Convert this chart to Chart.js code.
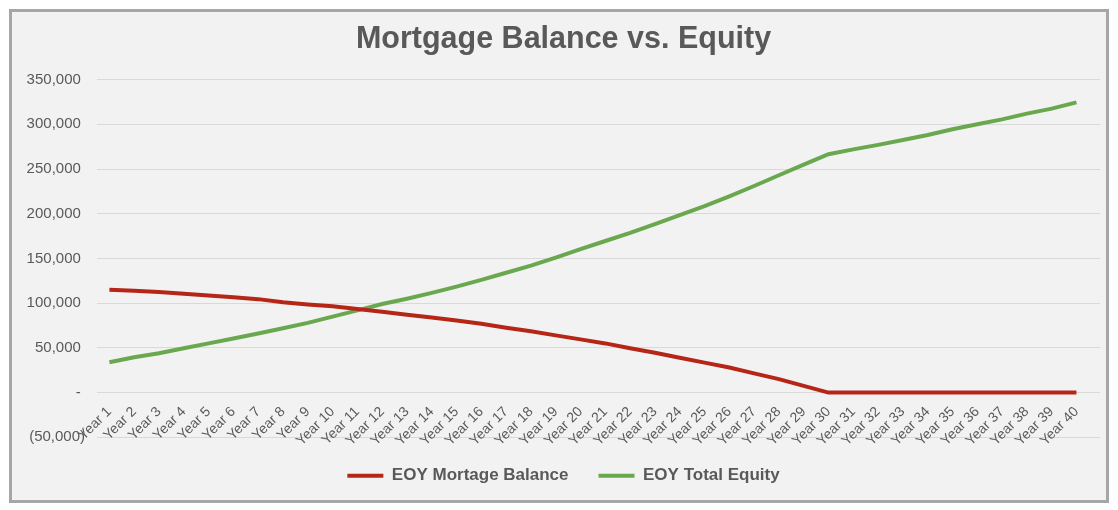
<!DOCTYPE html>
<html>
<head>
<meta charset="utf-8">
<script src="https://cdn.jsdelivr.net/npm/chart.js@4/dist/chart.umd.min.js"></script>
<style>
  html, body { margin: 0; padding: 0; background: #ffffff; }
  #frame {
    position: absolute; left: 9px; top: 9px;
    width: 1094px; height: 488px;
    border: 3px solid #a6a6a6;
    background: #f2f2f2;
  }
  canvas { display: block; }
</style>
</head>
<body>
<div id="frame"><canvas id="myChart" width="1094" height="488"></canvas></div>
<script>
const years = ['Year 1','Year 2','Year 3','Year 4','Year 5','Year 6','Year 7','Year 8','Year 9','Year 10',
  'Year 11','Year 12','Year 13','Year 14','Year 15','Year 16','Year 17','Year 18','Year 19','Year 20',
  'Year 21','Year 22','Year 23','Year 24','Year 25','Year 26','Year 27','Year 28','Year 29','Year 30',
  'Year 31','Year 32','Year 33','Year 34','Year 35','Year 36','Year 37','Year 38','Year 39','Year 40']

const mortgageBalance = [115000, 114000, 112500, 110500, 108500, 106500, 104500, 101000, 98500, 96500,
  93500, 90500, 87000, 84000, 80500, 77000, 72500, 68500, 64000, 59500,
  55000, 49500, 44500, 39000, 33500, 28000, 21500, 15000, 7500, 0,
  0, 0, 0, 0, 0, 0, 0, 0, 0, 0]

const totalEquity = [34000, 39500, 44000, 49500, 55000, 60500, 66000, 72000, 78000, 85000,
  92000, 99000, 105000, 111500, 118500, 126000, 134000, 142000, 151000, 160500,
  169500, 178500, 188500, 198500, 208500, 219500, 231000, 243000, 255000, 266500,
  272000, 277000, 282500, 288000, 294500, 300000, 305500, 312000, 317500, 324500]

const textColor = '#595959'

function fmtTick(v){
    const s = Math.abs(v).toLocaleString('en-US')
    if (v < 0) return '(' + s + ')'
    if (v === 0) return '- '
    return s + ' '
}

const ctx = document.getElementById('myChart').getContext('2d')
const myChart = new Chart(ctx, {
    type: 'line',
    data: {
        labels: years,
        datasets: [
            {
                label: 'EOY Mortage Balance',
                data: mortgageBalance,
                borderColor: '#b52617',
                backgroundColor: '#b52617',
                borderWidth: 4,
                pointRadius: 0,
                tension: 0
            },
            {
                label: 'EOY Total Equity',
                data: totalEquity,
                borderColor: '#6aa84f',
                backgroundColor: '#6aa84f',
                borderWidth: 4,
                pointRadius: 0,
                tension: 0
            }
        ]
    },
    options: {
        responsive: false,
        animation: false,
        devicePixelRatio: 1,
        layout: { padding: { left: 15, right: 6, top: 0, bottom: 5.7 } },
        scales: {
            x: {
                position: { y: 0 },
                offset: true,
                // excel leaves a bit of empty room after the last year
                afterBuildTicks(scale){ scale._valueRange = 40.45 },
                grid: { display: false },
                border: { display: false },
                ticks: {
                    color: textColor,
                    font: { family: 'Liberation Sans', size: 14 },
                    maxRotation: 45,
                    minRotation: 45,
                    autoSkip: false,
                    padding: 3
                }
            },
            y: {
                min: -50000,
                max: 350000,
                afterFit(scale){ scale.width = 70 },
                grid: { color: '#d9d9d9', lineWidth: 1, drawTicks: false },
                border: { display: false },
                ticks: {
                    stepSize: 50000,
                    color: textColor,
                    font: { family: 'Liberation Sans', size: 15 },
                    padding: 12,
                    callback: v => fmtTick(v)
                }
            }
        },
        plugins: {
            title: {
                display: true,
                text: 'Mortgage Balance vs. Equity',
                color: textColor,
                font: { family: 'Liberation Sans', size: 30.5, weight: 'bold' },
                padding: { top: 9, bottom: 22 }
            },
            legend: {
                position: 'bottom',
                labels: {
                    color: textColor,
                    font: { family: 'Liberation Sans', size: 17, weight: 'bold' },
                    usePointStyle: true,
                    pointStyle: 'line',
                    pointStyleWidth: 36,
                    boxHeight: 17,
                    padding: 30
                }
            },
            tooltip: { enabled: false }
        }
    }
})
</script>
</body>
</html>
